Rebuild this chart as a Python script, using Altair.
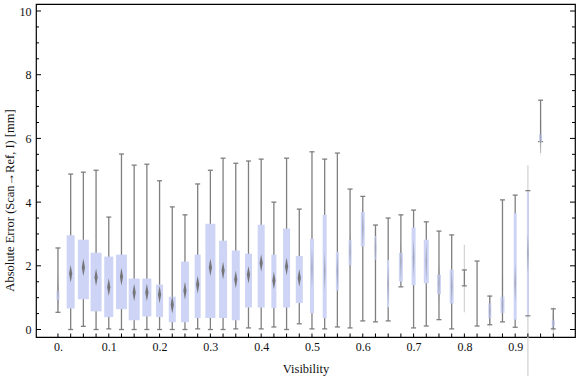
import altair as alt
import pandas as pd

# ---- data ----
vis = [0.0, 0.025, 0.05, 0.075, 0.1, 0.125, 0.15, 0.175, 0.2, 0.225,
       0.25, 0.275, 0.3, 0.325, 0.35, 0.375, 0.4, 0.425, 0.45, 0.475,
       0.5, 0.525, 0.55, 0.575, 0.6, 0.625, 0.65, 0.675, 0.7, 0.725,
       0.75, 0.775, 0.8, 0.825, 0.85, 0.875, 0.9, 0.925, 0.95, 0.975]
w_lo = [0.54, 0.0, 0.10, 0.0, 0.02, 0.0, 0.0, 0.0, 0.0, 0.0,
        0.0, 0.02, 0.0, 0.0, 0.02, 0.05, 0.02, 0.08, 0.0, 0.18,
        0.02, 0.02, 0.08, 0.05, 0.27, 0.24, 0.27, 1.34, 0.05, 0.11,
        0.31, 0.02, 1.37, 0.11, 0.15, 0.24, 0.07, 0.43, 5.90, 0.02]
q1 = [0.92, 0.66, 0.95, 0.57, 0.39, 0.64, 0.29, 0.41, 0.39, 0.23,
      0.23, 0.36, 0.36, 0.36, 0.29, 0.69, 0.69, 0.67, 0.69, 0.83,
      0.51, 0.36, 1.23, 2.02, 2.61, 2.19, 0.70, 1.51, 1.39, 1.45,
      1.11, 0.82, None, None, 0.35, 0.52, 0.31, 0.45, 5.90, 0.08]
med = [1.15, 1.75, 1.95, 1.64, 1.33, 1.66, 1.16, 1.16, 1.10, 0.78,
       1.22, 1.41, 1.95, 1.85, 1.57, 1.72, 2.09, 1.54, 1.98, 1.62,
       1.93, 1.83, 1.83, 2.45, 3.19, 2.56, 1.41, 2.14, 2.25, 2.14,
       1.46, 1.36, None, None, 0.60, 0.78, 1.46, 2.40, 6.02, 0.20]
q3 = [1.20, 2.96, 2.82, 2.41, 2.29, 2.35, 1.60, 1.60, 1.41, 1.03,
      2.13, 2.35, 3.32, 2.79, 2.48, 2.38, 3.29, 2.35, 3.17, 2.31,
      2.85, 3.60, 2.44, 2.81, 3.69, 2.94, 2.18, 2.41, 3.20, 2.82,
      1.72, 1.88, None, None, 0.82, 1.03, 3.65, 4.34, 6.14, 0.31]
w_hi = [2.56, 4.88, 4.94, 5.00, 3.53, 5.51, 5.16, 5.19, 4.67, 3.85,
        3.60, 4.57, 5.00, 5.38, 5.22, 5.29, 5.35, 4.00, 5.38, 3.78,
        5.58, 5.35, 5.54, 4.41, 4.18, 3.28, 3.50, 3.60, 3.75, 3.38,
        3.09, 2.97, 1.87, 2.15, 1.05, 4.07, 4.22, 4.36, 7.20, 0.65]
weight = [3, 8, 11, 11, 9, 11, 11, 9, 7, 7,
          8, 6, 10, 8, 8, 7, 7, 5, 7, 7,
          4, 4, 3, 3, 4, 2, 2, 4, 4, 5,
          4, 4, 0, 0, 3, 4, 3, 2, 3, 3]

# faint (semi-transparent) traces
faint_vis = [0.8, 0.875, 0.925, 0.95, 0.95]
faint_lo = [0.54, 1.25, -1.47, 5.54, 6.30]
faint_hi = [2.66, 1.66, 5.16, 5.90, 6.60]

# axis tick positions
y_major = [0, 2, 4, 6, 8, 10]
y_minor = [0.5, 1, 1.5, 2.5, 3, 3.5, 4.5, 5, 5.5, 6.5, 7, 7.5, 8.5, 9, 9.5]
x_labels = [0.0, 0.1, 0.2, 0.3, 0.4, 0.5, 0.6, 0.7, 0.8, 0.9]

df = pd.DataFrame({"vis": vis, "lo": w_lo, "q1": q1, "med": med,
                   "q3": q3, "hi": w_hi, "weight": weight})
df_faint = pd.DataFrame({"vis": faint_vis, "lo": faint_lo, "hi": faint_hi})
df_ymaj = pd.DataFrame({"v": y_major})
df_ymin = pd.DataFrame({"v": y_minor})
df_xt = pd.DataFrame({"v": vis})

W, H = 539, 333
FONT = "Liberation Serif"
GRAY = "#7f7f7f"

xscale = alt.Scale(domain=[-0.0334, 1.0079], nice=False, zero=False)
yscale = alt.Scale(domain=[-0.235, 10.22], nice=False, zero=False)
xaxis = alt.Axis(values=x_labels, ticks=False, domain=False, grid=False,
                 labelExpr="datum.value == 0 ? '0.' : format(datum.value, '.1f')",
                 title="Visibility", titleY=31, titleBaseline="middle")
yaxis = alt.Axis(values=y_major, format="d", ticks=False, domain=False, grid=False,
                 title="Absolute Error (Scan\u2192Ref, I) [mm]",
                 titleX=-27, titleY=196, titleAngle=270, titleBaseline="middle")

X = lambda f: alt.X(f"{f}:Q", scale=xscale, axis=xaxis)
Y = lambda f: alt.Y(f"{f}:Q", scale=yscale, axis=yaxis)

base = alt.Chart(df)

faint = alt.Chart(df_faint).mark_rule(color="#d4d4d4", strokeWidth=1.3).encode(
    x=X("vis"), y=Y("lo"), y2="hi")

whisk = base.mark_rule(color=GRAY, strokeWidth=1.3).encode(
    x=X("vis"), y=Y("lo"), y2="hi")
cap_lo = base.mark_tick(orient="horizontal", size=5, thickness=1.3, color=GRAY, opacity=1).encode(
    x=X("vis"), y=Y("lo"))
cap_hi = base.mark_tick(orient="horizontal", size=5, thickness=1.3, color=GRAY, opacity=1).encode(
    x=X("vis"), y=Y("hi"))
boxes = base.mark_bar(color="#cdd4f5", opacity=1).encode(
    x=X("vis"), y=Y("q1"), y2="q3",
    size=alt.Size("weight:Q", scale=alt.Scale(domain=[0, 11], range=[0, 11]), legend=None))

diamonds = base.transform_filter("datum.vis > 0 && datum.vis < 0.49").mark_point(
    shape="M0,-1L0.18,0L0,1L-0.18,0Z", filled=True, size=310, color="#707070", opacity=0.95
).encode(x=X("vis"), y=Y("med"))
strips = base.transform_filter("datum.vis == 0 || datum.vis > 0.49").mark_point(
    shape="M0,-1L0.04,0L0,1L-0.04,0Z", filled=True, size=1500, color="#707070", opacity=0.45
).encode(x=X("vis"), y=Y("med"))

# inward frame ticks
yl_maj = alt.Chart(df_ymaj).mark_rule(color="black", strokeWidth=1).encode(
    y=Y("v"), x=alt.value(0), x2=alt.value(5))
yr_maj = alt.Chart(df_ymaj).mark_rule(color="black", strokeWidth=1).encode(
    y=Y("v"), x=alt.value(W - 5), x2=alt.value(W))
yl_min = alt.Chart(df_ymin).mark_rule(color="black", strokeWidth=1).encode(
    y=Y("v"), x=alt.value(0), x2=alt.value(3))
yr_min = alt.Chart(df_ymin).mark_rule(color="black", strokeWidth=1).encode(
    y=Y("v"), x=alt.value(W - 3), x2=alt.value(W))
xt = alt.Chart(df_xt).mark_rule(color="black", strokeWidth=1).encode(
    x=X("v"), y=alt.value(H), y2=alt.value(H - 3.5))

chart = alt.layer(
    faint, whisk, cap_lo, cap_hi, boxes, strips, diamonds,
    yl_maj, yr_maj, yl_min, yr_min, xt
).properties(
    width=W, height=H,
    autosize=alt.AutoSizeParams(type="none"),
    padding={"left": 36, "top": 4, "right": 1, "bottom": 40},
    background="white",
).configure_view(
    stroke="black", strokeWidth=1.2
).configure_axis(
    labelFont=FONT, labelFontSize=12, labelColor="#111111",
    titleFont=FONT, titleFontSize=12.5, titleFontWeight="normal", titleColor="#111111",
).configure_axisX(labelPadding=4).configure_axisY(labelPadding=5)

chart.save("out.html", embed_options={"renderer": "svg", "actions": False})
